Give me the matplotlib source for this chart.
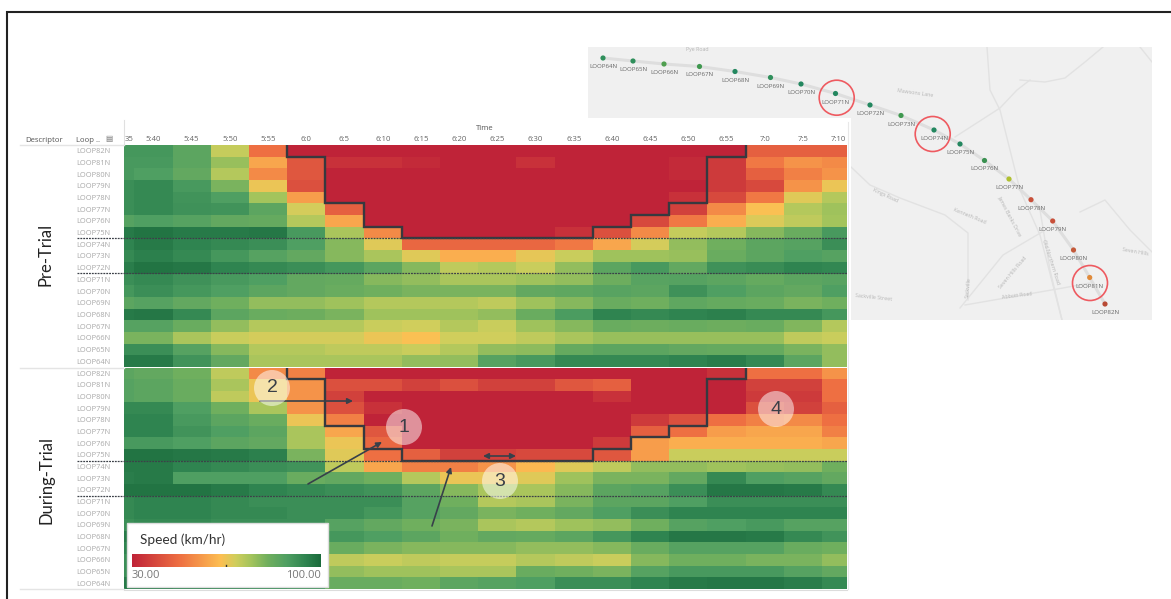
import numpy as np
import matplotlib
matplotlib.use('Agg')
import matplotlib.pyplot as plt
from matplotlib.colors import LinearSegmentedColormap, TwoSlopeNorm
from matplotlib.patches import Circle, Polygon, Rectangle

plt.rcParams['font.family'] = ['Open Sans', 'DejaVu Sans']

# Time bins across the top, first and last are cut off by the view
time_labels = ['35', '5:40', '5:45', '5:50', '5:55', '6:0', '6:5', '6:10', '6:15', '6:20',
               '6:25', '6:30', '6:35', '6:40', '6:45', '6:50', '6:55', '7:0', '7:5', '7:10']
loop_labels = ['LOOP82N', 'LOOP81N', 'LOOP80N', 'LOOP79N', 'LOOP78N', 'LOOP77N', 'LOOP76N',
               'LOOP75N', 'LOOP74N', 'LOOP73N', 'LOOP72N', 'LOOP71N', 'LOOP70N', 'LOOP69N',
               'LOOP68N', 'LOOP67N', 'LOOP66N', 'LOOP65N', 'LOOP64N']

# Speeds
pre_trial = [
    [85, 85, 78, 57, 40, 30, 30, 30, 30, 30, 30, 30, 30, 30, 30, 30, 30, 38, 38, 38],
    [84, 84, 78, 65, 46, 37, 32, 32, 31, 30, 30, 32, 30, 30, 30, 31, 33, 41, 44, 43],
    [84, 82, 76, 60, 43, 37, 30, 30, 30, 30, 30, 30, 30, 30, 30, 31, 33, 38, 42, 44],
    [88, 90, 84, 70, 50, 36, 30, 30, 30, 30, 30, 30, 30, 30, 30, 30, 33, 35, 44, 50],
    [88, 90, 86, 82, 63, 45, 30, 30, 30, 30, 30, 30, 30, 30, 30, 32, 35, 41, 52, 60],
    [88, 90, 87, 86, 78, 54, 38, 30, 30, 30, 30, 30, 30, 30, 30, 34, 43, 49, 60, 64],
    [80, 82, 80, 76, 75, 60, 46, 30, 30, 30, 30, 30, 30, 30, 35, 41, 47, 53, 58, 63],
    [95, 97, 95, 95, 96, 84, 62, 43, 30, 30, 30, 30, 32, 36, 43, 57, 60, 68, 74, 84],
    [92, 95, 92, 90, 88, 82, 68, 52, 39, 39, 39, 39, 41, 46, 54, 66, 72, 78, 80, 88],
    [90, 93, 90, 85, 80, 76, 68, 62, 52, 47, 47, 51, 56, 64, 64, 65, 74, 78, 82, 80],
    [94, 97, 96, 92, 90, 88, 85, 78, 68, 58, 60, 56, 66, 78, 84, 76, 87, 89, 92, 91],
    [88, 90, 87, 84, 82, 76, 75, 68, 66, 62, 62, 64, 66, 73, 79, 80, 78, 75, 78, 79],
    [85, 88, 85, 82, 78, 76, 74, 72, 70, 70, 70, 76, 77, 79, 78, 87, 82, 78, 76, 82],
    [78, 80, 76, 72, 66, 66, 64, 60, 60, 60, 58, 64, 68, 74, 72, 77, 75, 74, 70, 72],
    [95, 96, 90, 78, 74, 73, 70, 64, 64, 64, 66, 74, 83, 92, 90, 92, 93, 90, 90, 85],
    [80, 80, 74, 66, 60, 60, 60, 56, 55, 60, 56, 64, 68, 74, 73, 74, 73, 74, 69, 60],
    [70, 70, 62, 56, 54, 54, 54, 50, 49, 55, 55, 58, 62, 65, 65, 65, 65, 65, 58, 56],
    [88, 88, 80, 68, 60, 60, 58, 58, 56, 60, 66, 67, 75, 78, 78, 76, 75, 75, 70, 66],
    [95, 95, 86, 76, 62, 62, 62, 62, 66, 66, 80, 84, 90, 90, 90, 92, 94, 90, 78, 66],
]
during_trial = [
    [78, 76, 72, 58, 43, 42, 30, 30, 30, 30, 30, 30, 30, 30, 30, 30, 32, 40, 40, 44],
    [80, 78, 74, 62, 50, 44, 36, 36, 34, 36, 34, 34, 37, 38, 30, 30, 30, 34, 34, 40],
    [80, 78, 74, 58, 50, 44, 34, 30, 30, 30, 30, 30, 30, 32, 30, 30, 30, 33, 33, 40],
    [90, 90, 82, 72, 62, 44, 36, 32, 30, 30, 30, 30, 30, 30, 30, 30, 30, 36, 34, 38],
    [92, 92, 84, 78, 74, 50, 42, 30, 30, 30, 30, 30, 30, 30, 33, 36, 40, 42, 43, 40],
    [92, 92, 86, 82, 78, 62, 46, 37, 30, 30, 30, 30, 30, 30, 38, 40, 45, 46, 46, 42],
    [84, 84, 82, 78, 76, 62, 50, 39, 30, 30, 30, 30, 30, 33, 45, 47, 47, 47, 47, 46],
    [97, 97, 96, 95, 93, 70, 52, 40, 38, 34, 34, 35, 35, 37, 45, 56, 56, 56, 56, 56],
    [95, 95, 92, 90, 88, 86, 58, 46, 42, 42, 44, 48, 52, 58, 66, 66, 64, 65, 66, 72],
    [94, 95, 82, 82, 82, 74, 76, 72, 60, 50, 50, 52, 64, 70, 70, 76, 90, 82, 80, 76],
    [97, 97, 97, 95, 92, 90, 88, 86, 78, 68, 62, 62, 68, 78, 80, 88, 96, 96, 95, 90],
    [90, 92, 92, 90, 88, 88, 88, 88, 80, 72, 60, 62, 70, 78, 78, 82, 88, 88, 88, 88],
    [90, 92, 92, 90, 90, 88, 88, 85, 80, 76, 70, 72, 76, 82, 88, 92, 92, 92, 92, 92],
    [88, 90, 90, 88, 88, 88, 80, 76, 72, 70, 62, 60, 64, 66, 72, 80, 82, 84, 80, 80],
    [95, 95, 92, 90, 88, 85, 85, 82, 78, 72, 76, 75, 78, 85, 92, 96, 96, 95, 90, 86],
    [92, 92, 90, 88, 86, 84, 74, 70, 68, 68, 68, 66, 66, 68, 74, 80, 80, 80, 74, 72],
    [88, 86, 84, 82, 80, 78, 58, 56, 58, 57, 57, 60, 58, 56, 68, 72, 72, 70, 70, 66],
    [88, 86, 84, 82, 80, 78, 66, 64, 64, 62, 62, 74, 72, 70, 80, 84, 84, 84, 80, 76],
    [95, 95, 93, 92, 90, 88, 74, 74, 72, 78, 80, 82, 88, 88, 92, 95, 96, 96, 94, 90],
]

# Congested area outline: rows covered from the top, for each bin from 6:0 to 6:55
outline_depth = [1, 5, 7, 8, 8, 8, 8, 8, 7, 6, 5, 1]
outline_start = 4
section_rows = [8, 11]

# Map detail, in picture pixels
station_names = ['LOOP64N', 'LOOP65N', 'LOOP66N', 'LOOP67N', 'LOOP68N', 'LOOP69N', 'LOOP70N',
                 'LOOP71N', 'LOOP72N', 'LOOP73N', 'LOOP74N', 'LOOP75N', 'LOOP76N', 'LOOP77N',
                 'LOOP78N', 'LOOP79N', 'LOOP80N', 'LOOP81N', 'LOOP82N']
station_x = [603, 633, 664, 699.5, 735, 770.5, 801, 835.5, 870, 901, 934, 960, 984.5, 1009,
             1031, 1052.7, 1073.5, 1089.7, 1105]
station_y = [58, 61, 64, 66.5, 71.5, 77.5, 84, 93.5, 105, 115.5, 130, 144, 160.5, 179,
             199.7, 221, 250, 277.5, 304]
station_colors = ['#2f8f5b', '#2f8f5b', '#4f9f4f', '#3f984f', '#23875f', '#2f8f5b', '#23875f',
                  '#23875f', '#23875f', '#3f984f', '#23875f', '#23875f', '#3a9050', '#b0c030',
                  '#c8503a', '#c8503a', '#c45a3a', '#e08a3a', '#b84a35']
ring_centres = [(836.7, 97.7), (932.7, 134), (1090, 283)]
side_roads = [
    [(987, 47), (990, 90), (1000, 110), (1020, 190), (1040, 235), (1062, 320)],
    [(955, 137), (1000, 108), (1017, 90), (1030, 80)],
    [(1103, 47), (1085, 62), (1065, 78), (1045, 82), (1020, 80)],
    [(851, 167), (870, 185), (900, 198), (945, 215), (968, 233), (968, 300)],
    [(1040, 210), (1050, 270), (1062, 320)],
    [(1080, 212), (1105, 200), (1130, 230), (1152, 252)],
    [(960, 308), (1003, 255), (1042, 232)],
    [(965, 305), (1063, 288), (1090, 283)],
    [(1140, 47), (1152, 62)],
]
road_names = [('Pye Road', 697, 50, 0), ('Mawsons Lane', 915, 93, -8), ('Sackville Street', 874, 297, -6),
              ('Abbott Road', 1017, 296, 7), ('Seven Hills Road', 1013, 273, 50),
              ('Seven Hills', 1135, 252, -10), ('Kenneth Road', 970, 216, -22),
              ('Kings Road', 885, 195, -25), ('Sackville', 968, 287, 84),
              ('James Banks Drive', 1010, 216, -62), ('Old Northern Road', 1051, 262, -72)]

# Numbered callouts and arrows, in picture pixels
callouts = [('1', 404, 427), ('2', 272, 388), ('3', 500, 481), ('4', 776, 409)]
arrows = [((308, 484), (382, 442), '-|>'), ((432, 526), (451, 467), '-|>'),
          ((260, 401), (353, 401), '-|>'), ((483, 456), (516, 456), '<|-|>')]

speed_cmap = LinearSegmentedColormap.from_list('speed', [
    (0.0, '#bf2338'), (0.25, '#ee6f42'), (0.47, '#fdbf52'), (0.55, '#cfce5c'),
    (0.63, '#a4c45c'), (0.72, '#70af5e'), (0.82, '#4f9f62'), (0.92, '#2f8450'), (1.0, '#1b6b3c')])
speed_norm = TwoSlopeNorm(vmin=30, vcenter=50, vmax=100)

W, H = 1171, 599
fig = plt.figure(figsize=(W / 100, H / 100), dpi=100, facecolor='white')


def px_axes(x0, y0, x1, y1, zorder):
    ax = fig.add_axes([x0 / W, 1 - y1 / H, (x1 - x0) / W, (y1 - y0) / H], zorder=zorder)
    return ax


# Map first, the white area under the heatmap is just left out of the polygon
ax_map = px_axes(0, 0, W, H, 0)
ax_map.set_xlim(0, W)
ax_map.set_ylim(H, 0)
ax_map.axis('off')
map_shape = Polygon([(588, 47), (1152, 47), (1152, 320), (851, 320), (851, 118), (588, 118)],
                    facecolor='#f0f0f0', edgecolor='none')
ax_map.add_patch(map_shape)
for road in side_roads:
    xs, ys = zip(*road)
    line, = ax_map.plot(xs, ys, color='#e2e2e2', lw=1.0)
    line.set_clip_path(map_shape)
main_road, = ax_map.plot(station_x, station_y, color='#dedede', lw=2.2)
main_road.set_clip_path(map_shape)
for name, x, y, rot in road_names:
    ax_map.text(x, y, name, fontsize=3.8, color='#b5b5b5', rotation=rot, ha='center', va='center')
ax_map.scatter(station_x, station_y, s=14, c=station_colors, linewidths=0, zorder=3)
for name, x, y in zip(station_names, station_x, station_y):
    ax_map.text(x, y + 8.5, name, fontsize=4.4, color='#666666', ha='center', va='center', zorder=3)
for (cx, cy) in ring_centres:
    ax_map.add_patch(Circle((cx, cy), 17.5, fill=False, edgecolor='#ee5a60', lw=1.2, zorder=4))

# Heatmap panels
col_edges = np.array([-0.272] + list(range(0, 19)) + [18.654])
row_edges = np.arange(20)
tick_pos = [-0.13] + [i + 0.5 for i in range(18)] + [18.42]


def draw_panel(ax, values):
    ax.pcolormesh(col_edges, row_edges, np.array(values), cmap=speed_cmap, norm=speed_norm,
                  edgecolors='none', antialiased=False)
    ax.set_xlim(col_edges[0], col_edges[-1])
    ax.set_ylim(19, 0)
    ax.set_yticks(np.arange(19) + 0.5)
    ax.set_yticklabels(loop_labels, fontsize=5.3, color='#a8a8a8')
    ax.tick_params(axis='y', length=0, pad=10)
    ax.tick_params(axis='x', length=0)
    for spine in ax.spines.values():
        spine.set_visible(False)
    edges = np.arange(outline_start, outline_start + len(outline_depth) + 1)
    ax.stairs(outline_depth, edges, baseline=0, color='#37393f', lw=1.7, zorder=3)


ax_pre = px_axes(124, 145, 847, 367, 1)
draw_panel(ax_pre, pre_trial)
ax_pre.xaxis.tick_top()
ax_pre.set_xticks(tick_pos)
ax_pre.set_xticklabels(time_labels, fontsize=5.6, color='#666666')
ax_pre.tick_params(axis='x', pad=1.5)

ax_dur = px_axes(124, 367.5, 847, 589, 1)
draw_panel(ax_dur, during_trial)
ax_dur.set_xticks([])

# Everything drawn on top of the panels, in picture pixels
ax_top = px_axes(0, 0, W, H, 2)
ax_top.set_xlim(0, W)
ax_top.set_ylim(H, 0)
ax_top.axis('off')
ax_top.patch.set_alpha(0)

# frame runs off the right and bottom of the picture
ax_top.plot([7, 7, W], [H, 12, 12], color='#222222', lw=1.5, solid_joinstyle='miter')

for y in (145, 367.5, 589):
    ax_top.plot([20, 124], [y, y], color='#e4e4e4', lw=1)
ax_top.plot([124, 124], [120, 145], color='#e0e0e0', lw=0.8)
ax_top.plot([847.5, 847.5], [122, 589], color='#e8e8e8', lw=0.8)
ax_top.plot([124, 847], [589.5, 589.5], color='#dcdcdc', lw=0.8)

ax_top.text(25, 140, 'Descriptor', fontsize=5.6, color='#555555', va='center')
ax_top.text(76, 140, 'Loop ..', fontsize=5.6, color='#555555', va='center')
ax_top.text(109, 139, '\u25a4', fontsize=5.5, color='#777777', ha='center', va='center',
            family=['DejaVu Sans'])
ax_top.text(485, 128, 'Time', fontsize=5.6, color='#555555', ha='center', va='center')
ax_top.text(46, 254, 'Pre-Trial', fontsize=12, color='#222222', rotation=90, ha='center', va='center',
            family=['Lato', 'DejaVu Sans'])
ax_top.text(46, 480, 'During-Trial', fontsize=12, color='#222222', rotation=90, ha='center', va='center',
            family=['Lato', 'DejaVu Sans'])

# dotted lines mark the two section breaks in each panel
for top, ax in ((145, ax_pre), (367.5, ax_dur)):
    for r in section_rows:
        y = top + r * (221.7 / 19)
        ax_top.plot([77, 847], [y, y], color='#3c4048', lw=0.9, ls=(0, (1.5, 0.8)))

for (start, end, style) in arrows:
    ax_top.annotate('', xy=end, xytext=start,
                    arrowprops=dict(arrowstyle=style, color='#37404a', lw=1.2, shrinkA=0, shrinkB=0,
                                    mutation_scale=8))

for label, x, y in callouts:
    ax_top.add_patch(Circle((x, y), 18, facecolor='white', edgecolor='none', alpha=0.5, zorder=4))
    ax_top.text(x, y, label, fontsize=14, color='#3a3f47', ha='center', va='center', zorder=5,
                family=['Liberation Sans', 'DejaVu Sans'])

# Legend card
ax_top.add_patch(Rectangle((127, 523), 201, 64, facecolor='white', edgecolor='#dddddd', lw=1, zorder=6))
ax_top.text(140, 540, 'Speed (km/hr)', fontsize=9.8, color='#333333', va='center', zorder=7,
            family=['Lato', 'DejaVu Sans'])
ax_top.text(132, 575, '30.00', fontsize=8, color='#777777', va='center', zorder=7)
ax_top.text(321, 575, '100.00', fontsize=8, color='#777777', ha='right', va='center', zorder=7)

ax_bar = px_axes(132, 554, 321, 567, 3)
ax_bar.imshow(np.linspace(0, 1, 256).reshape(1, -1), cmap=speed_cmap, aspect='auto', extent=(30, 100, 0, 1))
ax_bar.set_xticks([])
ax_bar.set_yticks([])
for spine in ax_bar.spines.values():
    spine.set_visible(False)
ax_bar.plot([65, 65], [0, 0.14], color='#333333', lw=1)
ax_bar.set_ylim(0, 1)

fig.savefig('out.png', dpi=100)
